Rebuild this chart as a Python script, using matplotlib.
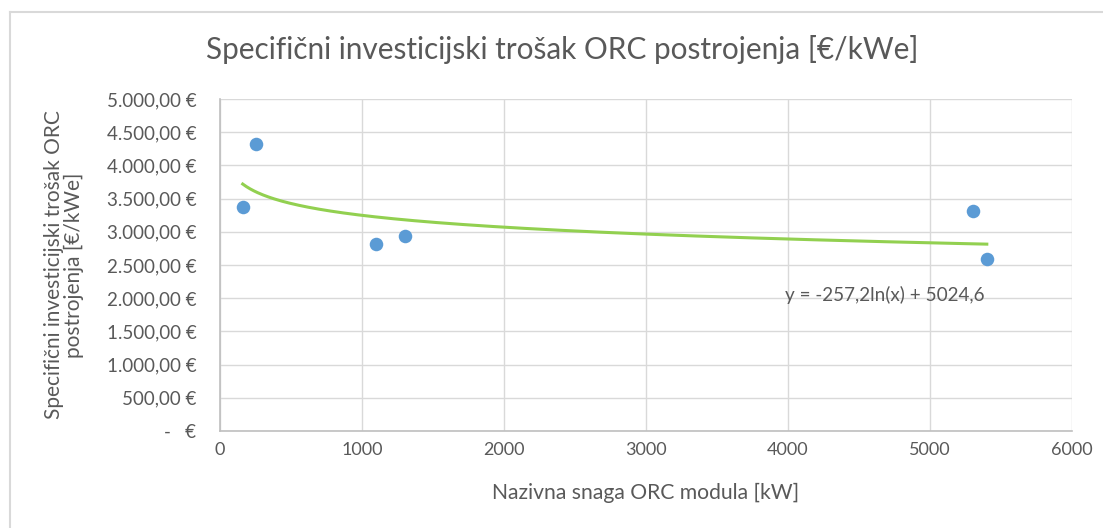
import numpy as np
import matplotlib.pyplot as plt
from matplotlib.lines import Line2D

# data
snaga_kw = [160, 250, 1100, 1300, 5300, 5400]
trosak = [3370, 4320, 2815, 2935, 3315, 2590]
# Excel logarithmic trendline shown on the chart
trend_a = -257.2
trend_b = 5024.6
y_ticks = [0, 500, 1000, 1500, 2000, 2500, 3000, 3500, 4000, 4500, 5000]
x_ticks = [0, 1000, 2000, 3000, 4000, 5000, 6000]

grey = '#595959'
font = 'Lato'

def eur(v):
    if v == 0:
        return '-   €'
    s = f'{v:,.2f}'.replace(',', 'X').replace('.', ',').replace('X', '.')
    return s + ' €'

fig = plt.figure(figsize=(11.03, 5.28), dpi=100)
ax = fig.add_axes([220/1103, 1-431/528, (1072-220)/1103, (431-99)/528])

# chart area border (left and top edges visible)
fig.add_artist(Line2D([10/1103, 10/1103], [0, 1-12/528], color='#d9d9d9', lw=1.5, transform=fig.transFigure))
fig.add_artist(Line2D([10/1103, 1], [1-12/528, 1-12/528], color='#d9d9d9', lw=1.5, transform=fig.transFigure))

xs = np.linspace(min(snaga_kw), max(snaga_kw), 400)
ax.plot(xs, trend_a*np.log(xs) + trend_b, color='#92d050', lw=2.2, zorder=2)
ax.scatter(snaga_kw, trosak, s=95, color='#5b9bd5', zorder=3, linewidths=0)

ax.set_xlim(0, 6000)
ax.set_ylim(0, 5000)
ax.set_xticks(x_ticks)
ax.set_yticks(y_ticks)
ax.set_xticklabels([str(v) for v in x_ticks], fontsize=13, color=grey, family=font)
ax.set_yticklabels([eur(v) for v in y_ticks], fontsize=13.5, color=grey, family=font)
ax.tick_params(axis='y', length=0, pad=17)
ax.tick_params(axis='x', length=0, pad=8)
ax.grid(True, color='#d9d9d9', lw=1)
ax.set_axisbelow(True)
for side in ['top', 'right']:
    ax.spines[side].set_visible(False)
for side in ['left', 'bottom']:
    ax.spines[side].set_color('#bfbfbf')
    ax.spines[side].set_linewidth(1.2)

ax.text(4680, 2048, 'y = -257,2ln(x) + 5024,6', ha='center', va='center', fontsize=13.6, color=grey, family=font)

fig.text(562/1103, 1-50/528, 'Specifični investicijski trošak ORC postrojenja [€/kWe]', ha='center', va='center',
         fontsize=21.4, color=grey, family=font)
fig.text(646/1103, 1-493/528, 'Nazivna snaga ORC modula [kW]', ha='center', va='center', fontsize=15.2, color=grey, family=font)
fig.text(64/1103, 1-265/528, 'Specifični investicijski trošak ORC\npostrojenja [€/kWe]', ha='center', va='center',
         rotation=90, fontsize=15, color=grey, family=font, linespacing=1.0)

fig.savefig('out.png', dpi=100)
